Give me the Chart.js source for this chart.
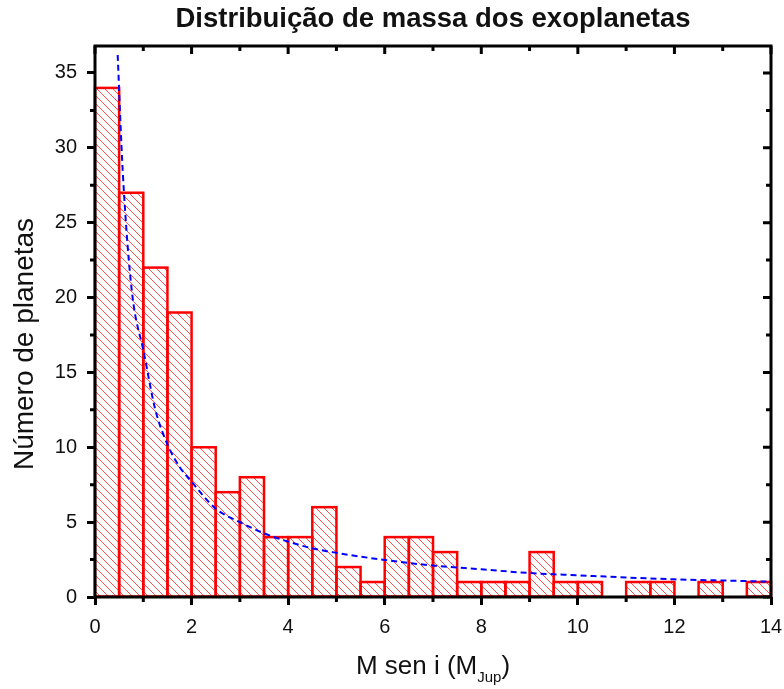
<!DOCTYPE html>
<html lang="pt">
<head>
  <meta charset="UTF-8" />
  <title>Distribuição de massa dos exoplanetas</title>
  <script src="https://cdn.jsdelivr.net/npm/chart.js"></script>
  <style>
    body { margin: 0; background: #fff; }
    #wrap { width: 784px; height: 689px; position: relative; }
  </style>
</head>
<body>
  <div id="wrap"><canvas id="histChart"></canvas></div>

  <script>
    // histogram bins (M sen i, width 0.5 M_Jup) and counts
    var binCenters = [0.25, 0.75, 1.25, 1.75, 2.25, 2.75, 3.25, 3.75, 4.25, 4.75,
                      5.25, 5.75, 6.25, 6.75, 7.25, 7.75, 8.25, 8.75, 9.25, 9.75,
                      10.25, 10.75, 11.25, 11.75, 12.25, 12.75, 13.25, 13.75];
    var counts = [34, 27, 22, 19, 10, 7, 8, 4, 4, 6,
                  2, 1, 4, 4, 3, 1, 1, 1, 3, 1,
                  1, 0, 1, 1, 0, 1, 0, 1];

    // fitted decay curve
    var fitX = [0.47, 0.55, 0.6, 0.7, 0.8, 1.0, 1.25, 1.5, 1.75, 2, 2.5, 3, 3.5, 4,
                4.5, 5, 6, 7, 8, 9, 10, 11, 12, 13, 14];
    var fitY = [36.2, 30, 27, 22.5, 19.5, 16.5, 12.5, 10.2, 8.7, 7.7, 5.9, 5.0, 4.25, 3.7,
                3.25, 2.95, 2.47, 2.1, 1.85, 1.6, 1.45, 1.3, 1.18, 1.1, 1.02];

    var xTicks = [0, 2, 4, 6, 8, 10, 12, 14];
    var xMinor = [1, 3, 5, 7, 9, 11, 13];
    var yTicks = [0, 5, 10, 15, 20, 25, 30, 35];
    var yMinor = [2.5, 7.5, 12.5, 17.5, 22.5, 27.5, 32.5];

    var FONT = '"Liberation Sans", Arial, sans-serif';

    function hatchPattern(color) {
      var c = document.createElement('canvas');
      c.width = 8; c.height = 8;
      var g = c.getContext('2d');
      g.fillStyle = '#fff';
      g.fillRect(0, 0, 8, 8);
      g.strokeStyle = color;
      g.lineWidth = 1;
      g.beginPath();
      g.moveTo(-2, -2); g.lineTo(10, 10);
      g.moveTo(-2, 6); g.lineTo(2, 10);
      g.moveTo(6, -2); g.lineTo(10, 2);
      g.stroke();
      return g.createPattern(c, 'repeat');
    }

    // outlines centred on bar edges so neighbouring bars share one line
    var barOutline = {
      id: 'barOutline',
      afterDatasetDraw: function(chart, args) {
        if (chart.data.datasets[args.index].type !== 'bar') return;
        var ctx = chart.ctx;
        ctx.save();
        ctx.strokeStyle = '#ff0000';
        ctx.lineWidth = 2.5;
        ctx.lineJoin = 'miter';
        args.meta.data.forEach(function(bar, i) {
          if (!counts[i]) return;
          var p = bar.getProps(['x', 'y', 'base', 'width'], true);
          ctx.strokeRect(p.x - p.width / 2, p.y, p.width, p.base - p.y);
        });
        ctx.restore();
      }
    };

    // box frame, minor ticks, mirrored ticks on top/right, axis titles
    var frame = {
      id: 'frame',
      afterDatasetsDraw: function(chart) {
        var ctx = chart.ctx, a = chart.chartArea;
        var xs = chart.scales.x, ys = chart.scales.y;
        ctx.save();
        ctx.strokeStyle = '#000';
        ctx.lineWidth = 3;
        ctx.lineCap = 'butt';
        ctx.strokeRect(a.left, a.top, a.right - a.left, a.bottom - a.top);

        ctx.beginPath();
        xTicks.forEach(function(v) {
          var px = xs.getPixelForValue(v);
          ctx.moveTo(px, a.top); ctx.lineTo(px, a.top + 8);
        });
        xMinor.forEach(function(v) {
          var px = xs.getPixelForValue(v);
          ctx.moveTo(px, a.bottom); ctx.lineTo(px, a.bottom + 5);
          ctx.moveTo(px, a.top); ctx.lineTo(px, a.top + 5);
        });
        yTicks.forEach(function(v) {
          var py = ys.getPixelForValue(v);
          ctx.moveTo(a.right, py); ctx.lineTo(a.right - 8, py);
        });
        yMinor.forEach(function(v) {
          var py = ys.getPixelForValue(v);
          ctx.moveTo(a.left, py); ctx.lineTo(a.left - 5, py);
          ctx.moveTo(a.right, py); ctx.lineTo(a.right - 5, py);
        });
        ctx.stroke();

        ctx.fillStyle = '#111';

        // y axis title
        ctx.save();
        ctx.translate(25, 344);
        ctx.rotate(-Math.PI / 2);
        ctx.textAlign = 'center';
        ctx.textBaseline = 'middle';
        ctx.font = '28px ' + FONT;
        ctx.fillText('Número de planetas', 0, 0);
        ctx.restore();

        // x axis title: M sen i (M_Jup)
        var main = 'M sen i (M', sub = 'Jup', close = ')';
        ctx.textBaseline = 'alphabetic';
        ctx.textAlign = 'left';
        ctx.font = '26px ' + FONT;
        var w1 = ctx.measureText(main).width;
        var w3 = ctx.measureText(close).width;
        ctx.font = '15px ' + FONT;
        var w2 = ctx.measureText(sub).width;
        var cx = (a.left + a.right) / 2;
        var x0 = cx - (w1 + w2 + w3) / 2;
        var base = 674;
        ctx.font = '26px ' + FONT;
        ctx.fillText(main, x0, base);
        ctx.font = '15px ' + FONT;
        ctx.fillText(sub, x0 + w1, base + 8);
        ctx.font = '26px ' + FONT;
        ctx.fillText(close, x0 + w1 + w2, base);
        ctx.restore();
      }
    };

    var ctx = document.getElementById('histChart').getContext('2d');
    new Chart(ctx, {
      data: {
        datasets: [
          {
            type: 'line',
            label: 'Ajuste',
            data: fitX.map(function(x, i) { return { x: x, y: fitY[i] }; }),
            borderColor: '#0000ff',
            borderWidth: 2,
            borderDash: [6, 4],
            pointRadius: 0,
            cubicInterpolationMode: 'monotone',
            fill: false,
            order: 0
          },
          {
            type: 'bar',
            label: 'Planetas',
            data: binCenters.map(function(x, i) { return { x: x, y: counts[i] }; }),
            backgroundColor: hatchPattern('rgba(255,0,0,0.7)'),
            borderWidth: 0,
            barPercentage: 1,
            categoryPercentage: 1,
            inflateAmount: 0,
            order: 1
          }
        ]
      },
      options: {
        responsive: true,
        maintainAspectRatio: false,
        animation: false,
        layout: { padding: { top: 0, left: 0, right: 13, bottom: 52 } },
        plugins: {
          legend: { display: false },
          tooltip: { enabled: false },
          title: {
            display: true,
            fullSize: false,
            text: 'Distribuição de massa dos exoplanetas',
            color: '#111',
            font: { family: FONT, size: 27.5, weight: 'bold' },
            padding: { top: 3, bottom: 10 }
          }
        },
        scales: {
          x: {
            type: 'linear',
            offset: false,
            min: 0,
            max: 14,
            afterBuildTicks: function(s) { s.ticks = xTicks.map(function(v) { return { value: v }; }); },
            afterFit: function(s) { s.height = 40; s.paddingLeft = 0; s.paddingRight = 0; },
            grid: { offset: false, color: 'transparent', drawOnChartArea: false, drawTicks: true, tickLength: 8, tickWidth: 3, tickColor: '#000' },
            border: { display: false },
            ticks: { color: '#111', padding: 10, maxRotation: 0, font: { family: FONT, size: 20 } }
          },
          y: {
            min: 0,
            max: 36.8,
            afterBuildTicks: function(s) { s.ticks = yTicks.map(function(v) { return { value: v }; }); },
            afterFit: function(s) { s.width = 95; s.paddingTop = 0; s.paddingBottom = 0; },
            grid: { color: 'transparent', drawOnChartArea: false, drawTicks: true, tickLength: 8, tickWidth: 3, tickColor: '#000' },
            border: { display: false },
            ticks: { color: '#111', padding: 10, font: { family: FONT, size: 20 } }
          }
        }
      },
      plugins: [barOutline, frame]
    });
  </script>
</body>
</html>
